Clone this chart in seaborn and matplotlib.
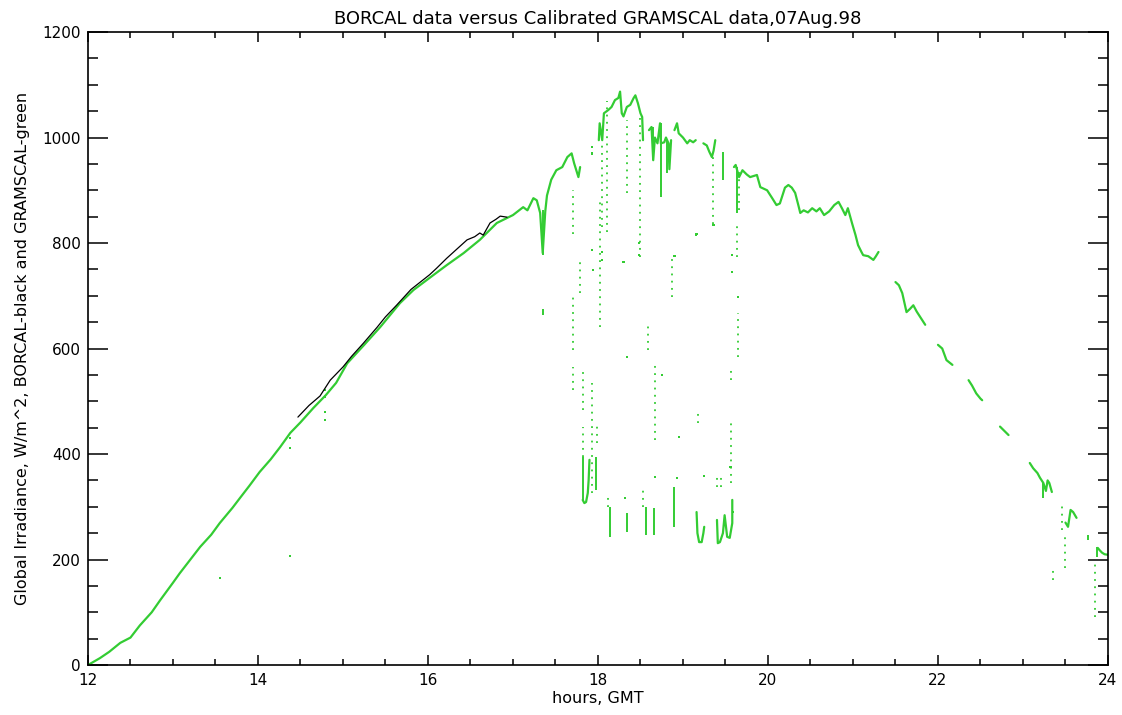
import matplotlib
matplotlib.use("Agg")
import matplotlib.pyplot as plt
from matplotlib.ticker import MultipleLocator
import pandas as pd
import seaborn as sns

GREEN = "#33cc33"

# GRAMSCAL (green) continuous pieces: hour, irradiance W/m^2
seg_ids = (
    [1] * 52 + [2] * 19 + [3] * 12 + [4] * 8 + [5] * 6 + [6] * 39
    + [7] * 9 + [8] * 4 + [9] * 5 + [10] * 3 + [11] * 9 + [12] * 5 + [13] * 5
    + [14] * 6 + [15] * 6 + [16] * 9
)
green_hours = [
    12.00, 12.14, 12.25, 12.38, 12.50, 12.61, 12.75, 12.85, 13.00, 13.08, 13.20, 13.32, 13.45,
    13.55, 13.70, 13.79, 13.90, 14.02, 14.15, 14.26, 14.38, 14.50, 14.65, 14.80, 14.92, 15.05,
    15.25, 15.44, 15.67, 15.83, 16.02, 16.22, 16.42, 16.61, 16.81, 17.00, 17.12, 17.17, 17.24,
    17.28, 17.32, 17.35, 17.38, 17.40, 17.45, 17.51, 17.58, 17.64, 17.69, 17.72, 17.77, 17.79,
    # 2
    18.01, 18.02, 18.05, 18.07, 18.12, 18.16, 18.20, 18.24, 18.26, 18.28, 18.30, 18.34, 18.38,
    18.42, 18.44, 18.47, 18.50, 18.52, 18.53,
    # 3
    18.60, 18.63, 18.65, 18.67, 18.70, 18.73, 18.74, 18.78, 18.80, 18.83, 18.84, 18.86,
    # 4
    18.90, 18.93, 18.95, 19.00, 19.05, 19.08, 19.12, 19.15,
    # 5
    19.24, 19.28, 19.31, 19.34, 19.36, 19.38,
    # 6
    19.60, 19.62, 19.66, 19.70, 19.75, 19.79, 19.87, 19.91, 19.99, 20.05, 20.10, 20.14, 20.20,
    20.24, 20.28, 20.32, 20.36, 20.38, 20.42, 20.47, 20.52, 20.57, 20.61, 20.66, 20.72, 20.78,
    20.83, 20.87, 20.91, 20.94, 20.99, 21.03, 21.06, 21.10, 21.12, 21.18, 21.24, 21.27, 21.30,
    # 7
    21.50, 21.54, 21.58, 21.63, 21.67, 21.71, 21.75, 21.79, 21.85,
    # 8
    22.00, 22.05, 22.10, 22.17,
    # 9
    22.36, 22.40, 22.45, 22.50, 22.52,
    # 10
    22.73, 22.78, 22.83,
    # 11
    23.08, 23.12, 23.17, 23.20, 23.24, 23.27, 23.29, 23.31, 23.34,
    # 12
    23.50, 23.53, 23.56, 23.59, 23.63,
    # 13
    23.88, 23.90, 23.93, 23.96, 24.00,
    # 14 low cloud dip pieces
    17.82, 17.84, 17.86, 17.88, 17.89, 17.90,
    # 15
    19.16, 19.17, 19.19, 19.22, 19.24, 19.25,
    # 16
    19.40, 19.41, 19.435, 19.47, 19.49, 19.52, 19.55, 19.58, 19.58,
]
green_irr = [
    0, 13, 25, 42, 52, 75, 100, 123, 156, 174, 199, 224, 247,
    269, 298, 317, 340, 366, 390, 413, 440, 460, 487, 512, 535, 572,
    607, 641, 686, 711, 734, 758, 781, 806, 838, 853, 868, 862, 885,
    881, 857, 781, 860, 890, 920, 938, 944, 963, 970, 951, 925, 944,
    995, 1027, 995, 1046, 1052, 1058, 1071, 1075, 1087, 1046, 1040, 1058, 1062,
    1075, 1080, 1065, 1046, 1039, 995,
    1014, 1020, 957, 1000, 989, 1027, 989, 991, 1000, 989, 940, 995,
    1014, 1027, 1008, 1000, 989, 995, 991, 995,
    989, 985, 973, 963, 975, 995,
    944, 948, 925, 938, 930, 925, 929, 906, 900, 885, 872, 875, 905,
    910, 905, 895, 870, 857, 862, 858, 866, 860, 866, 853, 860, 872,
    878, 866, 853, 866, 837, 815, 796, 783, 777, 775, 768, 775, 783,
    726, 720, 705, 669, 675, 682, 670, 660, 645,
    607, 600, 578, 569,
    540, 530, 515, 505, 502,
    452, 444, 436,
    383, 373, 364, 355, 345, 330, 350, 345, 328,
    270, 262, 294, 290, 279,
    222, 218, 213, 210, 209,
    313, 307, 309, 326, 350, 389,
    290, 250, 233, 233, 250, 262,
    275, 231, 233, 250, 284, 243, 241, 269, 313,
]

# BORCAL (black)
black_hours = [
    14.47, 14.60, 14.73, 14.85, 15.00, 15.10, 15.24, 15.40, 15.50, 15.63, 15.80, 16.02,
    16.10, 16.22, 16.35, 16.46, 16.55, 16.61, 16.65, 16.73, 16.80, 16.85, 16.93,
]
black_irr = [
    470, 492, 510, 540, 565, 585, 610, 640, 660, 682, 712, 740,
    752, 771, 790, 806, 812, 819, 815, 838, 845, 851, 849,
]

# sparse sampled streaks (dotted) and dense drops (solid): hour, low, high
dotted_hours = [17.71, 17.71, 17.71, 17.79, 17.82, 17.82, 17.93, 17.99, 18.02, 18.05, 18.11,
                18.12, 18.34, 18.49, 18.59, 18.53, 18.67, 18.87, 19.18, 19.35, 19.56, 19.56,
                19.64, 19.65, 19.66, 19.40, 19.45, 23.35, 23.49, 23.85, 23.46]
dotted_lo = [521, 597, 818, 705, 394, 483, 326, 421, 640, 830, 820, 300, 895, 773, 597, 300,
             427, 698, 459, 837, 540, 345, 773, 584, 862, 338, 338, 161, 184, 91, 256]
dotted_hi = [565, 705, 900, 768, 451, 560, 535, 460, 880, 990, 1070, 320, 1033, 1046, 648,
             332, 572, 773, 478, 970, 559, 459, 838, 667, 938, 364, 364, 184, 243, 199, 309]

solid_hours = [17.35, 17.35, 17.82, 17.98, 18.14, 18.34, 18.56, 18.66, 18.74, 18.65, 18.81,
               18.89, 19.47, 19.64, 23.24, 23.77, 23.87]
solid_lo = [777, 663, 313, 332, 243, 252, 246, 246, 887, 957, 932, 262, 919, 857, 317, 237, 205]
solid_hi = [862, 675, 394, 394, 300, 288, 300, 298, 1027, 1020, 995, 338, 973, 944, 345, 246, 224]

# isolated samples
dot_hours = [13.55, 14.38, 14.38, 14.38, 14.79, 14.79, 14.79, 14.79, 17.93, 17.93, 17.93,
             17.94, 18.05, 18.05, 18.30, 18.34, 18.32, 18.48, 18.48, 18.75, 18.67, 18.90,
             18.93, 18.95, 19.15, 19.16, 19.25, 19.36, 19.56, 19.58, 19.58, 19.65, 19.59]
dot_irr = [165, 207, 411, 430, 464, 480, 508, 521, 787, 970, 982,
           749, 783, 768, 764, 584, 317, 800, 777, 550, 357, 775,
           354, 432, 815, 817, 358, 834, 375, 745, 777, 698, 290]

sns.set_theme(style="ticks", rc={"text.color": "black", "axes.labelcolor": "black",
                                 "xtick.color": "black", "ytick.color": "black"})
plt.rcParams["font.family"] = ["DejaVu Sans"]

green_df = pd.DataFrame({"hour": green_hours, "irr": green_irr, "seg": seg_ids})
black_df = pd.DataFrame({"hour": black_hours, "irr": black_irr})
dots_df = pd.DataFrame({"hour": dot_hours, "irr": dot_irr})

fig = plt.figure(figsize=(11.22, 7.15), dpi=100)
ax = fig.add_axes([0.0784, 0.0699, 0.9091, 0.8853])

sns.lineplot(data=green_df, x="hour", y="irr", units="seg", estimator=None, sort=False,
             color=GREEN, linewidth=1.6, ax=ax)
ax.vlines(solid_hours, solid_lo, solid_hi, color=GREEN, linewidth=1.4)
ax.vlines(dotted_hours, dotted_lo, dotted_hi, color=GREEN, linewidth=1.3,
          linestyles=(0, (1, 3)))
sns.scatterplot(data=dots_df, x="hour", y="irr", color=GREEN, marker="s", s=3,
                edgecolor="none", ax=ax)
sns.lineplot(data=black_df, x="hour", y="irr", estimator=None, sort=False,
             color="black", linewidth=0.9, ax=ax)

ax.set_xlim(12, 24)
ax.set_ylim(0, 1200)
ax.xaxis.set_major_locator(MultipleLocator(2))
ax.xaxis.set_minor_locator(MultipleLocator(0.5))
ax.yaxis.set_major_locator(MultipleLocator(200))
ax.yaxis.set_minor_locator(MultipleLocator(50))
ax.tick_params(axis="x", which="major", direction="in", length=7.5, width=1.1,
               top=True, bottom=True, labelsize=11, pad=6)
ax.tick_params(axis="x", which="minor", direction="in", length=4, width=1.1,
               top=True, bottom=True)
ax.tick_params(axis="y", which="major", direction="in", length=14.5, width=1.1,
               left=True, right=True, labelsize=11, pad=5)
ax.tick_params(axis="y", which="minor", direction="in", length=7, width=1.1,
               left=True, right=True)
for side in ax.spines.values():
    side.set_visible(True)
    side.set_color("black")
    side.set_linewidth(1.2)

ax.set_title("BORCAL data versus Calibrated GRAMSCAL data,07Aug.98", fontsize=13, pad=6)
ax.set_xlabel("hours, GMT", fontsize=11.5, labelpad=2)
ax.set_ylabel("Global Irradiance, W/m^2, BORCAL-black and GRAMSCAL-green",
              fontsize=11.5, labelpad=9)

fig.savefig("out.png", dpi=100, facecolor="white")
plt.close(fig)
